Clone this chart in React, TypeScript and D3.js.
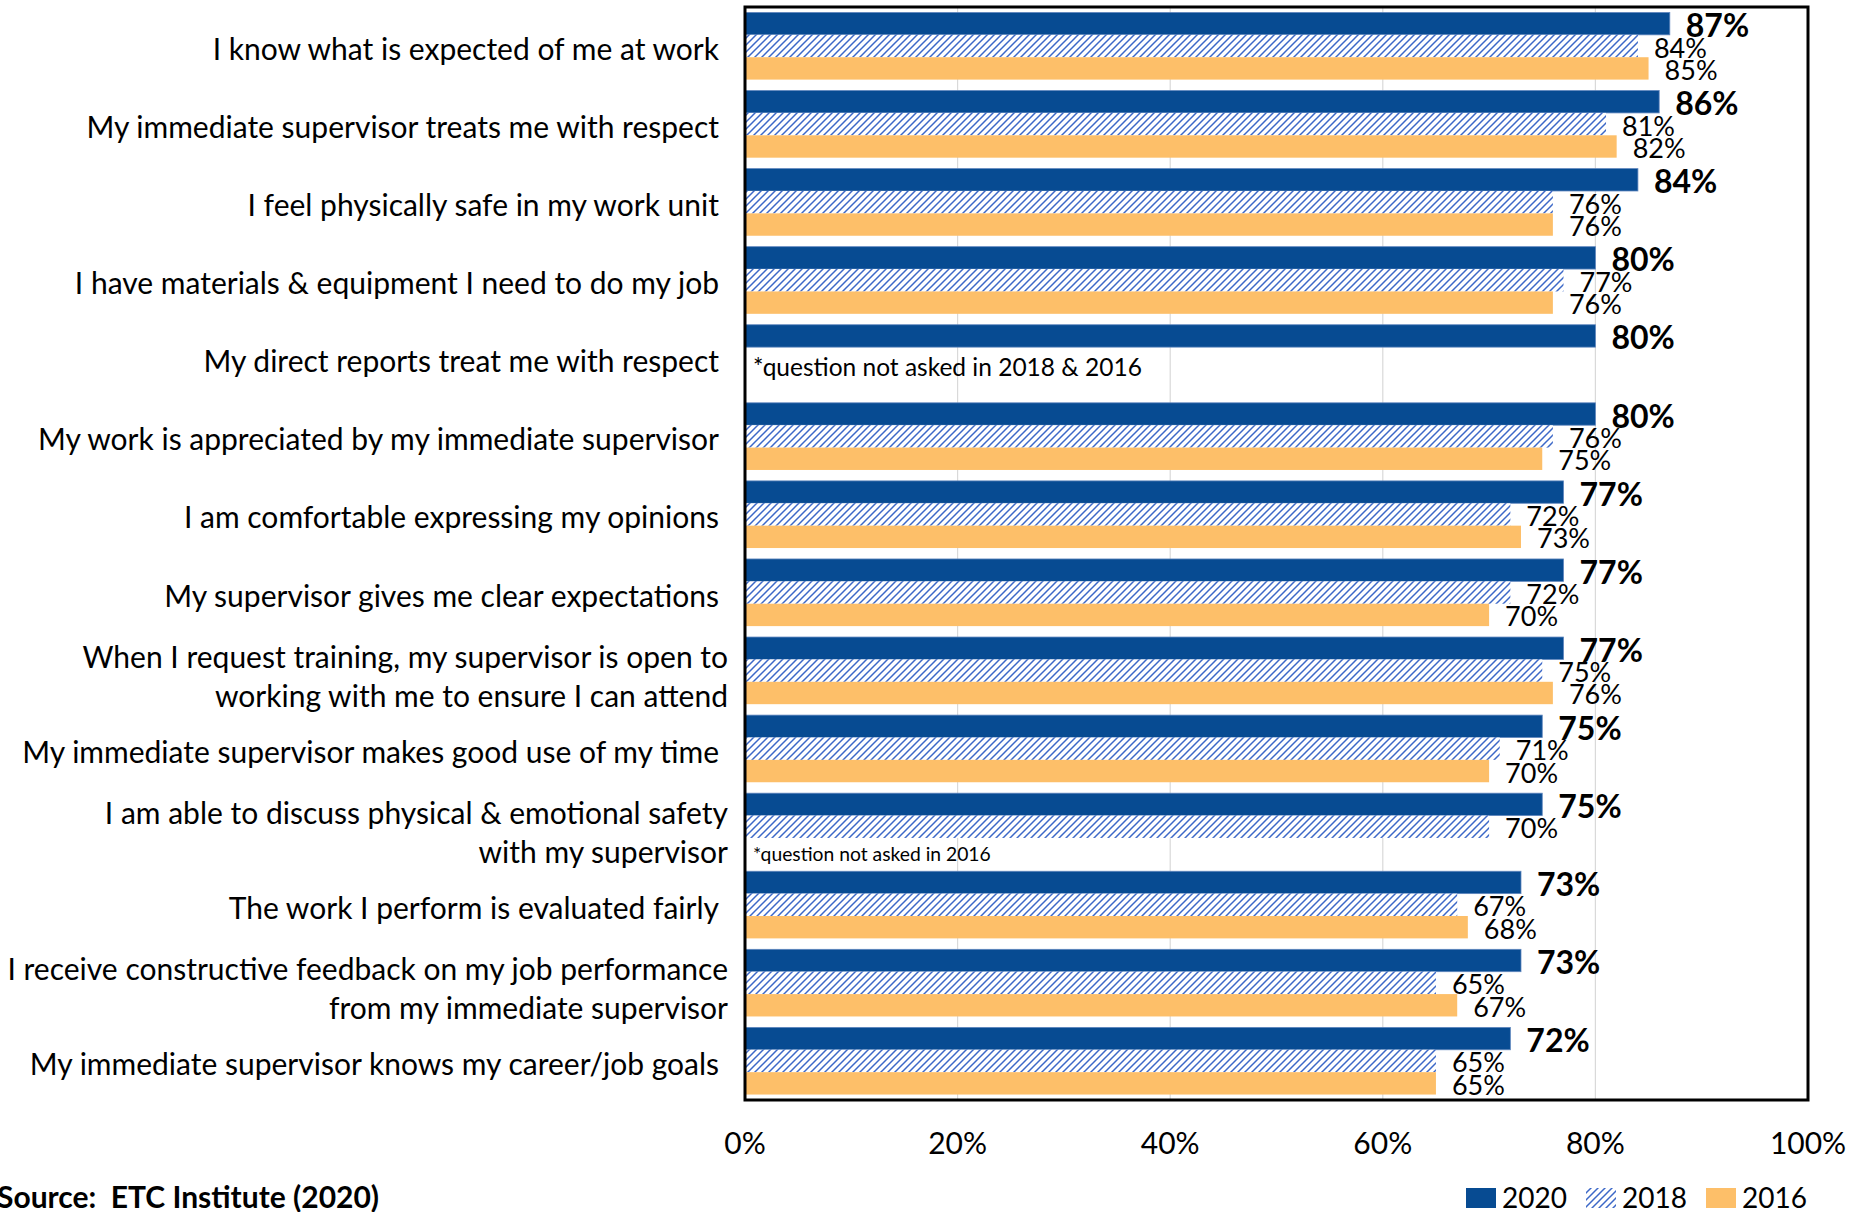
import React from "react";
import * as d3 from "d3";

const categories: string[] = [
  "I know what is expected of me at work",
  "My immediate supervisor treats me with respect",
  "I feel physically safe in my work unit",
  "I have materials & equipment I need to do my job",
  "My direct reports treat me with respect",
  "My work is appreciated by my immediate supervisor",
  "I am comfortable expressing my opinions",
  "My supervisor gives me clear expectations",
  "When I request training, my supervisor is open to\nworking with me to ensure I can attend",
  "My immediate supervisor makes good use of my time",
  "I am able to discuss physical & emotional safety\nwith my supervisor",
  "The work I perform is evaluated fairly",
  "I receive constructive feedback on my job performance\nfrom my immediate supervisor",
  "My immediate supervisor knows my career/job goals",
];

const values2020: (number | null)[] = [87, 86, 84, 80, 80, 80, 77, 77, 77, 75, 75, 73, 73, 72];
const values2018: (number | null)[] = [84, 81, 76, 77, null, 76, 72, 72, 75, 71, 70, 67, 65, 65];
const values2016: (number | null)[] = [85, 82, 76, 76, null, 75, 73, 70, 76, 70, null, 68, 67, 65];

const seriesNames: string[] = ["2020", "2018", "2016"];
const xTicks: number[] = [0, 20, 40, 60, 80, 100];

const noteIndices: number[] = [4, 10];
const noteTexts: string[] = ["*question not asked in 2018 & 2016", "*question not asked in 2016"];
const noteSlots: string[] = ["2018", "2016"];

const sourceText = "Source:  ETC Institute (2020)";

const W = 1869;
const H = 1212;
const plot = { left: 745, right: 1808, top: 7, bottom: 1100 };
const FONT = "Lato, 'Open Sans', sans-serif";

const BLUE = "#074B92";
const ORANGE = "#FDBF69";
const HATCH = "#3C68C8";

export default function App() {
  const x = d3.scaleLinear().domain([0, 100]).range([plot.left, plot.right]);
  const y = d3
    .scaleBand<string>()
    .domain(categories)
    .range([plot.top, plot.bottom])
    .paddingInner(0.14)
    .paddingOuter(0.07);
  const sub = d3.scaleBand<string>().domain(seriesNames).range([0, y.bandwidth()]).padding(0);

  const series = [values2020, values2018, values2016];
  const fills = [BLUE, "url(#hatch)", ORANGE];

  return (
    <svg
      width={W}
      height={H}
      style={{ position: "absolute", left: 0, top: 0, background: "#fff" }}
      fontFamily={FONT}
    >
      <defs>
        <pattern id="hatch" patternUnits="userSpaceOnUse" width={7} height={7}>
          <rect width={7} height={7} fill="#fff" />
          <path d="M-1,1 l2,-2 M0,7 l7,-7 M6,8 l2,-2" stroke={HATCH} strokeWidth={1.5} />
        </pattern>
      </defs>

      {/* gridlines */}
      {xTicks.slice(1, -1).map((t) => (
        <line key={t} x1={x(t)} x2={x(t)} y1={plot.top} y2={plot.bottom} stroke="#D9D9D9" strokeWidth={1.2} />
      ))}

      {/* bars */}
      {categories.map((c, i) =>
        series.map((vals, s) => {
          const v = vals[i];
          if (v == null) return null;
          const by = (y(c) as number) + (sub(seriesNames[s]) as number);
          return (
            <rect
              key={c + s}
              x={x(0)}
              y={by}
              width={x(v) - x(0)}
              height={sub.bandwidth()}
              fill={fills[s]}
              stroke={s === 0 ? "#5F86BE" : "none"}
              strokeWidth={s === 0 ? 0.8 : 0}
            />
          );
        })
      )}

      {/* value labels */}
      {categories.map((c, i) =>
        series.map((vals, s) => {
          const v = vals[i];
          if (v == null) return null;
          const by = (y(c) as number) + (sub(seriesNames[s]) as number) + sub.bandwidth() / 2;
          return (
            <text
              key={"l" + c + s}
              x={x(v) + 16}
              y={by + 1}
              dominantBaseline="central"
              fontSize={s === 0 ? 32 : 27}
              fontWeight={s === 0 ? 700 : 400}
              fill="#000"
            >
              {v}%
            </text>
          );
        })
      )}

      {/* notes */}
      {noteIndices.map((idx, k) => {
        const c = categories[idx];
        const cy = (y(c) as number) + (sub(noteSlots[k]) as number) + sub.bandwidth() / 2 + (k === 0 ? 8 : 4);
        return (
          <text key={"n" + k} x={plot.left + 8} y={cy} dominantBaseline="central" fontSize={k === 0 ? 24.5 : 19.3} fill="#000">
            {noteTexts[k]}
          </text>
        );
      })}

      {/* category labels */}
      {categories.map((c) => {
        const lines = c.split("\n");
        const cy = (y(c) as number) + y.bandwidth() / 2;
        if (lines.length === 1) {
          return (
            <text key={"c" + c} x={719} y={cy + 2} textAnchor="end" dominantBaseline="central" fontSize={30} fill="#000">
              {c}
            </text>
          );
        }
        return (
          <text key={"c" + c} x={728} textAnchor="end" dominantBaseline="central" fontSize={30} fill="#000">
            {lines.map((ln, j) => (
              <tspan key={j} x={728} y={cy + 5 + (j - 0.5) * 39}>
                {ln}
              </tspan>
            ))}
          </text>
        );
      })}

      {/* plot border */}
      <rect
        x={plot.left}
        y={plot.top}
        width={plot.right - plot.left}
        height={plot.bottom - plot.top}
        fill="none"
        stroke="#000"
        strokeWidth={3}
      />

      {/* x-axis tick labels */}
      {xTicks.map((t) => (
        <text key={"t" + t} x={x(t)} y={1142} textAnchor="middle" dominantBaseline="central" fontSize={30} fill="#000">
          {t}%
        </text>
      ))}

      {/* source */}
      <text x={-3} y={1208} fontSize={30} fontWeight={700} fill="#000" style={{ whiteSpace: "pre" }}>
        {sourceText}
      </text>

      {/* legend */}
      {seriesNames.map((n, k) => {
        const lx = 1466 + k * 120;
        return (
          <g key={"lg" + n}>
            <rect x={lx} y={1188} width={30} height={20} fill={fills[k]} />
            <text x={lx + 36} y={1208} fontSize={28} fill="#000">
              {n}
            </text>
          </g>
        );
      })}
    </svg>
  );
}
